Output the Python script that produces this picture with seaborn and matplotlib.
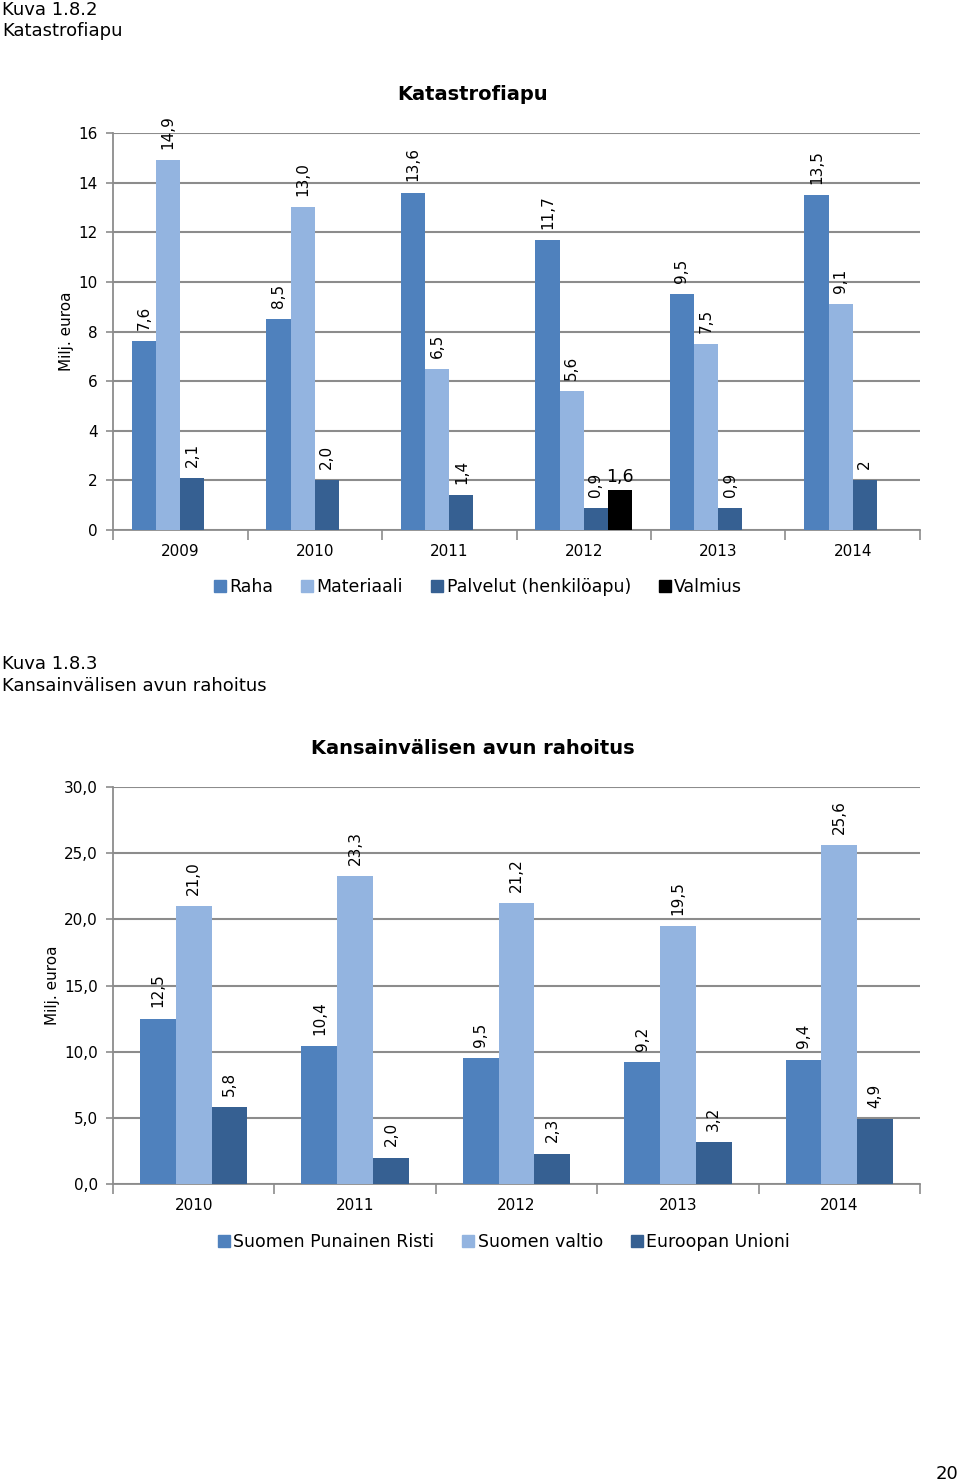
import numpy as np
import pandas as pd
import matplotlib.pyplot as plt
import seaborn as sns
from matplotlib.ticker import FuncFormatter, FixedLocator
from matplotlib.patches import Patch

# --- data: Kuva 1.8.2 Katastrofiapu ---
years1 = ['2009', '2010', '2011', '2012', '2013', '2014']
series1 = ['Raha', 'Materiaali', 'Palvelut (henkilöapu)', 'Valmius']
raha = [7.6, 8.5, 13.6, 11.7, 9.5, 13.5]
materiaali = [14.9, 13.0, 6.5, 5.6, 7.5, 9.1]
palvelut = [2.1, 2.0, 1.4, 0.9, 0.9, 2.0]
valmius = [np.nan, np.nan, np.nan, 1.6, np.nan, np.nan]
raha_lbl = ['7,6', '8,5', '13,6', '11,7', '9,5', '13,5']
materiaali_lbl = ['14,9', '13,0', '6,5', '5,6', '7,5', '9,1']
palvelut_lbl = ['2,1', '2,0', '1,4', '0,9', '0,9', '2']
valmius_lbl = ['', '', '', '1,6', '', '']

# --- data: Kuva 1.8.3 Kansainvälisen avun rahoitus ---
years2 = ['2010', '2011', '2012', '2013', '2014']
series2 = ['Suomen Punainen Risti', 'Suomen valtio', 'Euroopan Unioni']
spr = [12.5, 10.4, 9.5, 9.2, 9.4]
valtio = [21.0, 23.3, 21.2, 19.5, 25.6]
eu = [5.8, 2.0, 2.3, 3.2, 4.9]

colors1 = ['#4F81BD', '#93B4E0', '#366092', '#000000']
colors2 = ['#4F81BD', '#93B4E0', '#366092']

sns.set_theme(style='white')
plt.rcParams['font.family'] = ['DejaVu Sans']
plt.rcParams['text.color'] = 'black'
plt.rcParams['axes.labelcolor'] = 'black'
plt.rcParams['xtick.color'] = 'black'
plt.rcParams['ytick.color'] = 'black'

fig = plt.figure(figsize=(9.6, 14.84), dpi=100)

fig.text(0.002, 1 - 10 / 1484, 'Kuva 1.8.2', fontsize=13, va='center', ha='left')
fig.text(0.002, 1 - 31 / 1484, 'Katastrofiapu', fontsize=13, va='center', ha='left')
fig.text(0.002, 1 - 664 / 1484, 'Kuva 1.8.3', fontsize=13, va='center', ha='left')
fig.text(0.002, 1 - 686 / 1484, 'Kansainvälisen avun rahoitus', fontsize=13, va='center', ha='left')
fig.text(0.998, 1 - 1474 / 1484, '20', fontsize=13, va='center', ha='right')


def long_df(years, names, cols):
    rows = []
    for name, vals in zip(names, cols):
        for y, v in zip(years, vals):
            rows.append({'year': y, 'series': name, 'value': v})
    return pd.DataFrame(rows)


def style_axes(ax, ncat, ymax, ystep, fmt, ylabelpad):
    ax.set_xlim(-0.5, ncat - 0.5)
    ax.set_ylim(0, ymax)
    ticks = np.arange(0, ymax + 0.001, ystep)
    ax.yaxis.set_major_locator(FixedLocator(ticks))
    ax.yaxis.set_major_formatter(FuncFormatter(fmt))
    ax.grid(axis='y', color='#8c8c8c', linewidth=1.5, zorder=0)
    ax.set_axisbelow(True)
    for s in ['top', 'right']:
        ax.spines[s].set_visible(False)
    for s in ['left', 'bottom']:
        ax.spines[s].set_color('#8c8c8c')
        ax.spines[s].set_linewidth(1.3)
    ax.tick_params(axis='y', left=True, length=5, width=1.2, color='#8c8c8c',
                   labelcolor='black', labelsize=11, pad=6)
    ax.set_xticks(range(ncat), minor=False)
    ax.set_xticks(np.arange(-0.5, ncat, 1.0), minor=True)
    ax.tick_params(axis='x', which='major', length=0, labelsize=11, pad=10,
                   labelcolor='black')
    ax.tick_params(axis='x', which='minor', bottom=True, length=7, width=1.2,
                   color='#8c8c8c')
    ax.set_xlabel('')
    ax.set_ylabel('Milj. euroa', fontsize=11, labelpad=ylabelpad, color='black')


def add_labels(ax, values_list, labels_list, width, horiz=()):
    n = len(values_list)
    for j, (vals, lbls) in enumerate(zip(values_list, labels_list)):
        off = (j - (n - 1) / 2) * width / n
        for i, (v, t) in enumerate(zip(vals, lbls)):
            if t == '' or np.isnan(v):
                continue
            if j in horiz:
                ax.annotate(t, (i + off, v), xytext=(0, 3), textcoords='offset points',
                            ha='center', va='bottom', fontsize=12.5, color='black')
            else:
                ax.annotate(t, (i + off, v), xytext=(0, 8), textcoords='offset points',
                            ha='center', va='bottom', rotation=90, fontsize=11,
                            color='black')


# ---------- top chart ----------
ax1 = fig.add_axes([113 / 960, 1 - 530 / 1484, 807 / 960, 397 / 1484])
df1 = long_df(years1, series1, [raha, materiaali, palvelut, valmius])
w1 = 0.72
sns.barplot(data=df1, x='year', y='value', hue='series', hue_order=series1,
            palette=colors1, width=w1, errorbar=None, saturation=1,
            linewidth=0, legend=False, ax=ax1, zorder=3)
style_axes(ax1, len(years1), 16, 2, lambda v, p: f'{v:.0f}', 3)
add_labels(ax1, [raha, materiaali, palvelut, valmius],
           [raha_lbl, materiaali_lbl, palvelut_lbl, valmius_lbl], w1, horiz=(3,))
fig.text(473 / 960, 1 - 95 / 1484, 'Katastrofiapu', fontsize=14,
         fontweight='bold', ha='center', va='center')

h1 = [Patch(color=c) for c in colors1]
fig.legend(h1, series1, loc='center', bbox_to_anchor=(478 / 960, 1 - 587 / 1484),
           ncol=4, frameon=False, fontsize=12.5, handlelength=0.7, handleheight=0.7,
           handletextpad=0.2, columnspacing=1.6)

# ---------- bottom chart ----------
ax2 = fig.add_axes([113 / 960, 1 - 1184 / 1484, 807 / 960, 397 / 1484])
df2 = long_df(years2, series2, [spr, valtio, eu])
w2 = 0.665
sns.barplot(data=df2, x='year', y='value', hue='series', hue_order=series2,
            palette=colors2, width=w2, errorbar=None, saturation=1,
            linewidth=0, legend=False, ax=ax2, zorder=3)
style_axes(ax2, len(years2), 30, 5, lambda v, p: f'{v:.1f}'.replace('.', ','), 3)
lbl2 = [[f'{v:.1f}'.replace('.', ',') for v in s] for s in [spr, valtio, eu]]
add_labels(ax2, [spr, valtio, eu], lbl2, w2)
fig.text(473 / 960, 1 - 748 / 1484, 'Kansainvälisen avun rahoitus', fontsize=14,
         fontweight='bold', ha='center', va='center')

h2 = [Patch(color=c) for c in colors2]
fig.legend(h2, series2, loc='center', bbox_to_anchor=(504 / 960, 1 - 1242 / 1484),
           ncol=3, frameon=False, fontsize=12.5, handlelength=0.7, handleheight=0.7,
           handletextpad=0.2, columnspacing=1.6)

fig.savefig('out.png', dpi=100)
